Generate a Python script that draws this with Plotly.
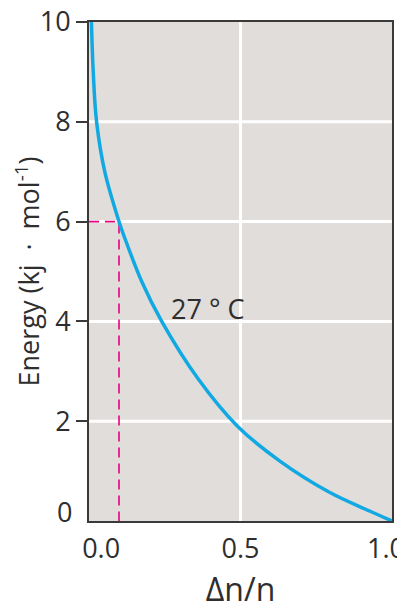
import plotly.graph_objects as go

# curve
frac = [0.008, 0.014, 0.025, 0.052, 0.099, 0.115, 0.174, 0.24, 0.36, 0.49, 0.63, 0.795, 0.926, 1.0]
energy = [10.0, 9.0, 8.0, 7.0, 6.0, 5.72, 4.8, 4.0, 2.85, 1.9, 1.2, 0.57, 0.2, 0.0]

# dashed guide at 6 kJ/mol
guide_x = [0.0, 0.099, 0.099]
guide_y = [6.0, 6.0, 0.0]

yticks = [2, 4, 6, 8, 10]
xticks = [0.04, 0.5, 0.98]
xticklabels = ['0.0', '0.5', '1.0']

font = 'Open Sans'
txt = '#2e2e2e'

fig = go.Figure()
fig.add_trace(go.Scatter(x=guide_x, y=guide_y, mode='lines',
                         line=dict(color='#e5007e', width=1.6, dash='10px,6px')))
fig.add_trace(go.Scatter(x=frac, y=energy, mode='lines',
                         line=dict(color='#12a9e3', width=3.5, shape='spline', smoothing=1)))

fig.add_annotation(x=0.39, y=4.26, text='27 ° C', showarrow=False,
                   font=dict(family=font, size=27, color=txt))
# the zero label sits a bit above the axis and has no tick
fig.add_annotation(x=0, y=0, xref='x', yref='y', text='0', showarrow=False,
                   xanchor='right', xshift=-15, yshift=10,
                   font=dict(family=font, size=27, color=txt))

# the page body adds 8px around the plot, so the figure is a bit smaller than the window
fig.update_layout(width=397, height=602, showlegend=False,
                  margin=dict(l=81, r=13, t=14, b=89),
                  paper_bgcolor='white', plot_bgcolor='#e1dddb',
                  font=dict(family=font, size=27, color=txt))

fig.update_xaxes(range=[0, 1], tickmode='array', tickvals=xticks, ticktext=xticklabels,
                 showgrid=False, zeroline=False, ticks='', automargin=False,
                 showline=True, linecolor='#3a3a3a', linewidth=2, mirror=True,
                 ticklabelstandoff=3, ticklabeloverflow='allow',
                 title=dict(text='Δn/n', standoff=15))
fig.update_yaxes(range=[0, 10], tickmode='array', tickvals=yticks,
                 showgrid=False, zeroline=False, ticks='outside', ticklen=11,
                 tickcolor='#3a3a3a', tickwidth=1.5, automargin=False,
                 showline=True, linecolor='#3a3a3a', linewidth=2, mirror=True,
                 ticklabeloverflow='allow',
                 title=dict(text='Energy (kj  ·  mol<sup>-1</sup>)', standoff=3,
                            font=dict(size=27)))

# white grid lines drawn under the traces
for v in [2, 4, 6, 8]:
    fig.add_hline(y=v, line=dict(color='white', width=3), layer='below')
fig.add_vline(x=0.5, line=dict(color='white', width=3), layer='below')

fig.write_html("out.html")
